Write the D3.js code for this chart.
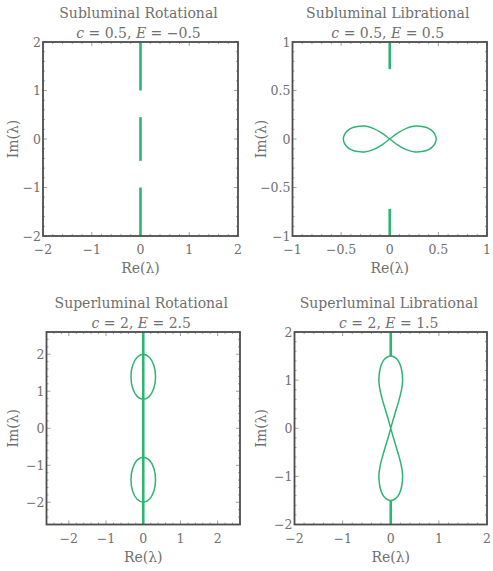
<!DOCTYPE html>
<html>
<head>
<meta charset="utf-8">
<script src="https://cdnjs.cloudflare.com/ajax/libs/d3/7.8.5/d3.min.js"></script>
<style>
  body { margin: 0; background: #fff; }
  text { font-family: "DejaVu Serif", "Liberation Serif", serif; fill: #707070; }
</style>
</head>
<body>
<svg id="chart" width="493" height="571"></svg>
<script>
// colours
var lineColor = '#2db573';
var frameColor = '#4d4d4d';

// panel titles and parameter lines
var titles = ['Subluminal Rotational', 'Subluminal Librational', 'Superluminal Rotational', 'Superluminal Librational'];
var paramC = ['0.5', '0.5', '2', '2'];
var paramE = ['\u22120.5', '0.5', '2.5', '1.5'];

// axis ranges and ticks
var domains = [[-2, 2], [-1, 1], [-2.6, 2.6], [-2, 2]];
var majorTicks = [
  [-2, -1, 0, 1, 2],
  [-1, -0.5, 0, 0.5, 1],
  [-2, -1, 0, 1, 2],
  [-2, -1, 0, 1, 2]
];
var minorStep = [0.2, 0.1, 0.2, 0.2];

// spectrum pieces on the imaginary axis (thick)
var axisSegments = [
  [[[0, 1.0], [0, 2]], [[0, -0.45], [0, 0.45]], [[0, -2], [0, -1.0]]],
  [[[0, 0.72], [0, 1]], [[0, -1], [0, -0.72]]],
  [[[0, -2.6], [0, 2.6]]],
  [[[0, 1.5], [0, 2]], [[0, -2], [0, -1.5]]]
];

// closed loops (thin)
var eightH = [
  [0, 0], [0.08, 0.06], [0.17, 0.11], [0.26, 0.133], [0.33, 0.13], [0.40, 0.11], [0.45, 0.07], [0.475, 0.02],
  [0.475, -0.02], [0.45, -0.07], [0.40, -0.11], [0.33, -0.13], [0.26, -0.133], [0.17, -0.11], [0.08, -0.06],
  [0, 0], [-0.08, 0.06], [-0.17, 0.11], [-0.26, 0.133], [-0.33, 0.13], [-0.40, 0.11], [-0.45, 0.07], [-0.475, 0.02],
  [-0.475, -0.02], [-0.45, -0.07], [-0.40, -0.11], [-0.33, -0.13], [-0.26, -0.133], [-0.17, -0.11], [-0.08, -0.06]
];
var ovalUp = [
  [0, 2.0], [0.165, 1.918], [0.286, 1.695], [0.33, 1.39], [0.286, 1.085], [0.165, 0.862],
  [0, 0.78], [-0.165, 0.862], [-0.286, 1.085], [-0.33, 1.39], [-0.286, 1.695], [-0.165, 1.918]
];
var ovalDown = [
  [0, -0.78], [0.165, -0.862], [0.286, -1.085], [0.33, -1.39], [0.286, -1.695], [0.165, -1.918],
  [0, -2.0], [-0.165, -1.918], [-0.286, -1.695], [-0.33, -1.39], [-0.286, -1.085], [-0.165, -0.862]
];
var eightV = [
  [0, 0], [-0.05, 0.18], [-0.11, 0.38], [-0.17, 0.58], [-0.22, 0.78], [-0.245, 0.95], [-0.24, 1.12],
  [-0.21, 1.28], [-0.15, 1.41], [-0.07, 1.48], [0, 1.5], [0.07, 1.48], [0.15, 1.41], [0.21, 1.28],
  [0.24, 1.12], [0.245, 0.95], [0.22, 0.78], [0.17, 0.58], [0.11, 0.38], [0.05, 0.18],
  [0, 0], [-0.05, -0.18], [-0.11, -0.38], [-0.17, -0.58], [-0.22, -0.78], [-0.245, -0.95], [-0.24, -1.12],
  [-0.21, -1.28], [-0.15, -1.41], [-0.07, -1.48], [0, -1.5], [0.07, -1.48], [0.15, -1.41], [0.21, -1.28],
  [0.24, -1.12], [0.245, -0.95], [0.22, -0.78], [0.17, -0.58], [0.11, -0.38], [0.05, -0.18]
];
var loops = [[], [eightH], [ovalUp, ovalDown], [eightV]];

// panel frames on the page
var frames = [
  {x: 43, y: 42, w: 195, h: 194},
  {x: 292.5, y: 42, w: 194.5, h: 194},
  {x: 46.5, y: 332, w: 193.5, h: 192.5},
  {x: 294.5, y: 332, w: 192.5, h: 192.5}
];

var svg = d3.select('#chart');

function fmt(v) {
  return String(v).replace('-', '\u2212');
}

function drawPanel(i) {
  var f = frames[i];
  var g = svg.append('g').attr('transform', 'translate(' + f.x + ',' + f.y + ')');
  var x = d3.scaleLinear().domain(domains[i]).range([0, f.w]);
  var y = d3.scaleLinear().domain(domains[i]).range([f.h, 0]);

  // minor ticks
  var d = domains[i];
  var minors = d3.range(Math.ceil(d[0] / minorStep[i] - 1e-6) * minorStep[i], d[1] + 1e-6, minorStep[i])
    .filter(function (v) { return majorTicks[i].every(function (m) { return Math.abs(m - v) > 1e-6; }); });

  var tg = g.append('g').attr('stroke', '#888').attr('stroke-width', 0.8);
  function ticks(vals, len) {
    vals.forEach(function (v) {
      tg.append('line').attr('x1', x(v)).attr('x2', x(v)).attr('y1', f.h).attr('y2', f.h - len);
      tg.append('line').attr('x1', x(v)).attr('x2', x(v)).attr('y1', 0).attr('y2', len);
      tg.append('line').attr('y1', y(v)).attr('y2', y(v)).attr('x1', 0).attr('x2', len);
      tg.append('line').attr('y1', y(v)).attr('y2', y(v)).attr('x1', f.w).attr('x2', f.w - len);
    });
  }
  ticks(majorTicks[i], 4);
  ticks(minors, 2);

  // curves
  var line = d3.line().x(function (p) { return x(p[0]); }).y(function (p) { return y(p[1]); });
  axisSegments[i].forEach(function (seg) {
    g.append('path').attr('d', line(seg)).attr('fill', 'none')
      .attr('stroke', lineColor).attr('stroke-width', 2.6);
  });
  var closed = d3.line().x(function (p) { return x(p[0]); }).y(function (p) { return y(p[1]); })
    .curve(d3.curveCatmullRomClosed.alpha(0.5));
  loops[i].forEach(function (lp) {
    g.append('path').attr('d', closed(lp)).attr('fill', 'none')
      .attr('stroke', lineColor).attr('stroke-width', 1.5);
  });

  // frame
  g.append('rect').attr('width', f.w).attr('height', f.h).attr('fill', 'none')
    .attr('stroke', frameColor).attr('stroke-width', 1.8);

  // tick labels
  majorTicks[i].forEach(function (v) {
    g.append('text').attr('x', x(v)).attr('y', f.h + 18).attr('text-anchor', 'middle')
      .attr('font-size', 12.5).text(fmt(v));
    g.append('text').attr('x', -2).attr('y', y(v) + 4.5).attr('text-anchor', 'end')
      .attr('font-size', 12.5).text(fmt(v));
  });

  // axis titles
  g.append('text').attr('x', f.w / 2).attr('y', f.h + 37).attr('text-anchor', 'middle')
    .attr('font-size', 14).text('Re(\u03bb)');
  var yl = (i % 2 === 0 ? 18 : 266) - f.x;
  g.append('text').attr('transform', 'translate(' + yl + ',' + (f.h / 2) + ') rotate(-90)')
    .attr('text-anchor', 'middle').attr('font-size', 14).text('Im(\u03bb)');

  // titles
  g.append('text').attr('x', f.w / 2 - 2).attr('y', -24).attr('text-anchor', 'middle')
    .attr('font-size', 14).text(titles[i]);
  var sub = g.append('text').attr('x', f.w / 2 - 2).attr('y', -4.5).attr('text-anchor', 'middle')
    .attr('font-size', 14);
  sub.append('tspan').attr('font-style', 'italic').text('c');
  sub.append('tspan').text(' = ' + paramC[i] + ', ');
  sub.append('tspan').attr('font-style', 'italic').text('E');
  sub.append('tspan').text(' = ' + paramE[i]);
}

for (var i = 0; i < 4; i++) drawPanel(i);
</script>
</body>
</html>
